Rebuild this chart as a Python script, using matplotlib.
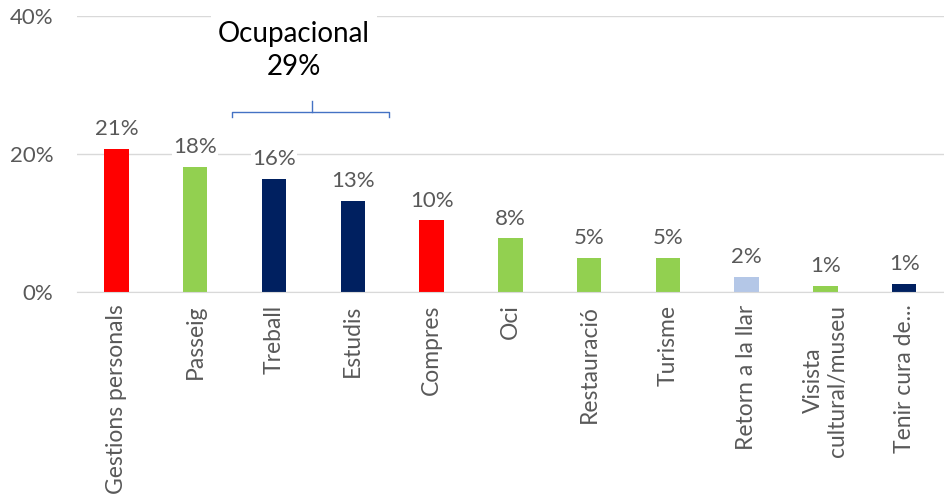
import matplotlib.pyplot as plt

plt.rcParams['font.family'] = ['Lato', 'DejaVu Sans']

categories = ['Gestions personals', 'Passeig', 'Treball', 'Estudis', 'Compres', 'Oci',
              'Restauració', 'Turisme', 'Retorn a la llar', 'Visista\ncultural/museu',
              'Tenir cura de...']
values = [20.7, 18.1, 16.4, 13.2, 10.4, 7.8, 5.0, 5.0, 2.2, 0.9, 1.2]
labels = ['21%', '18%', '16%', '13%', '10%', '8%', '5%', '5%', '2%', '1%', '1%']
colors = ['#FF0000', '#92D050', '#002060', '#002060', '#FF0000', '#92D050',
          '#92D050', '#92D050', '#B4C7E7', '#92D050', '#002060']
yticks = [0, 20, 40]
group_label = 'Ocupacional\n29%'

gray = '#595959'

fig = plt.figure(figsize=(9.44, 4.96), dpi=100)
ax = fig.add_axes([0.0816, 0.411, 0.918, 0.557])

x = range(len(categories))
ax.bar(x, values, width=0.31, color=colors, zorder=2)
ax.set_xlim(-0.5, len(categories) - 0.5)
ax.set_ylim(0, 40)

for i, (v, t) in enumerate(zip(values, labels)):
    ax.annotate(t, (i, v), xytext=(0, 7), textcoords='offset points',
                ha='center', va='bottom', fontsize=16, color=gray, zorder=3,
                bbox=dict(facecolor='white', edgecolor='none', pad=1))

ax.set_yticks(yticks)
ax.set_yticklabels([f'{t}%' for t in yticks], fontsize=16, color=gray)
ax.set_xticks(list(x))
ax.set_xticklabels(categories, rotation=90, fontsize=16.5, color=gray,
                   va='top', ha='center', multialignment='center')
ax.tick_params(length=0, pad=9)
ax.tick_params(axis='y', pad=17)
ax.grid(axis='y', color='#D9D9D9', linewidth=1, zorder=0)
for s in ['top', 'right', 'left']:
    ax.spines[s].set_visible(False)
ax.spines['bottom'].set_color('#D9D9D9')

# bracket over Treball / Estudis
bx0, bx1, by = 1.47, 3.46, 26.1
ax.plot([bx0, bx0, bx1, bx1], [25.4, by, by, 25.4], color='#4472C4', lw=1,
        clip_on=False, zorder=3)
ax.plot([2.48, 2.48], [by, 27.7], color='#4472C4', lw=1, clip_on=False, zorder=3)
ax.text(2.25, 35.0, group_label, ha='center', va='center', fontsize=20,
        color='black', linespacing=1.35, zorder=3,
        bbox=dict(facecolor='white', edgecolor='none', pad=5))

fig.savefig('out.png', dpi=100)
